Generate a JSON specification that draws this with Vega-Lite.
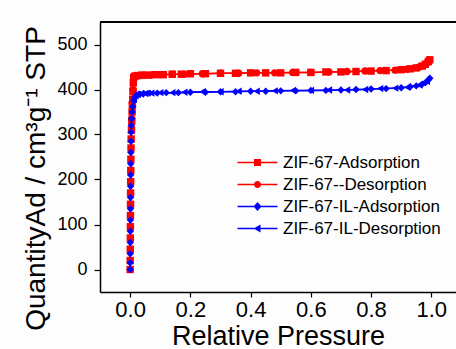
{
  "$schema": "https://vega.github.io/schema/vega-lite/v6.json",
  "width": 356,
  "height": 270,
  "autosize": {"type": "none"},
  "padding": {"left": 100, "top": 22, "right": 0, "bottom": 57},
  "background": "#fdfdfd",
  "config": {
    "view": {"stroke": null},
    "font": "Liberation Sans",
    "axis": {"domainColor": "#000000", "domainWidth": 1.5, "tickColor": "#000000", "tickWidth": 1.2, "labelColor": "#000000", "titleColor": "#000000", "labelFont": "Liberation Sans", "titleFont": "Liberation Sans", "titleFontWeight": "normal", "grid": false}
  },
  "resolve": {"scale": {"shape": "independent", "color": "independent"}},
  "datasets": {
    "iso": [
      {"s": "ZIF-67-Adsorption", "p": 0.0001, "q": 0},
      {"s": "ZIF-67-Adsorption", "p": 0.0003, "q": 20},
      {"s": "ZIF-67-Adsorption", "p": 0.0005, "q": 45},
      {"s": "ZIF-67-Adsorption", "p": 0.0007, "q": 70},
      {"s": "ZIF-67-Adsorption", "p": 0.0009, "q": 95},
      {"s": "ZIF-67-Adsorption", "p": 0.0011, "q": 120},
      {"s": "ZIF-67-Adsorption", "p": 0.0013, "q": 145},
      {"s": "ZIF-67-Adsorption", "p": 0.0015, "q": 170},
      {"s": "ZIF-67-Adsorption", "p": 0.0018, "q": 195},
      {"s": "ZIF-67-Adsorption", "p": 0.0021, "q": 220},
      {"s": "ZIF-67-Adsorption", "p": 0.0025, "q": 245},
      {"s": "ZIF-67-Adsorption", "p": 0.003, "q": 270},
      {"s": "ZIF-67-Adsorption", "p": 0.0035, "q": 290},
      {"s": "ZIF-67-Adsorption", "p": 0.0045, "q": 310},
      {"s": "ZIF-67-Adsorption", "p": 0.0055, "q": 330},
      {"s": "ZIF-67-Adsorption", "p": 0.0065, "q": 350},
      {"s": "ZIF-67-Adsorption", "p": 0.0075, "q": 365},
      {"s": "ZIF-67-Adsorption", "p": 0.0085, "q": 378},
      {"s": "ZIF-67-Adsorption", "p": 0.0095, "q": 395},
      {"s": "ZIF-67-Adsorption", "p": 0.0105, "q": 415},
      {"s": "ZIF-67-Adsorption", "p": 0.012, "q": 427},
      {"s": "ZIF-67-Adsorption", "p": 0.016, "q": 430},
      {"s": "ZIF-67-Adsorption", "p": 0.025, "q": 431},
      {"s": "ZIF-67-Adsorption", "p": 0.04, "q": 432},
      {"s": "ZIF-67-Adsorption", "p": 0.06, "q": 432},
      {"s": "ZIF-67-Adsorption", "p": 0.085, "q": 433},
      {"s": "ZIF-67-Adsorption", "p": 0.11, "q": 433},
      {"s": "ZIF-67-Adsorption", "p": 0.14, "q": 434},
      {"s": "ZIF-67-Adsorption", "p": 0.17, "q": 434},
      {"s": "ZIF-67-Adsorption", "p": 0.2, "q": 435},
      {"s": "ZIF-67-Adsorption", "p": 0.25, "q": 435},
      {"s": "ZIF-67-Adsorption", "p": 0.3, "q": 436},
      {"s": "ZIF-67-Adsorption", "p": 0.35, "q": 436},
      {"s": "ZIF-67-Adsorption", "p": 0.4, "q": 437},
      {"s": "ZIF-67-Adsorption", "p": 0.45, "q": 437},
      {"s": "ZIF-67-Adsorption", "p": 0.5, "q": 437},
      {"s": "ZIF-67-Adsorption", "p": 0.55, "q": 438},
      {"s": "ZIF-67-Adsorption", "p": 0.6, "q": 438},
      {"s": "ZIF-67-Adsorption", "p": 0.65, "q": 439},
      {"s": "ZIF-67-Adsorption", "p": 0.7, "q": 439},
      {"s": "ZIF-67-Adsorption", "p": 0.75, "q": 440},
      {"s": "ZIF-67-Adsorption", "p": 0.8, "q": 441},
      {"s": "ZIF-67-Adsorption", "p": 0.85, "q": 442},
      {"s": "ZIF-67-Adsorption", "p": 0.9, "q": 444},
      {"s": "ZIF-67-Adsorption", "p": 0.93, "q": 446},
      {"s": "ZIF-67-Adsorption", "p": 0.95, "q": 448},
      {"s": "ZIF-67-Adsorption", "p": 0.97, "q": 452},
      {"s": "ZIF-67-Adsorption", "p": 0.98, "q": 456},
      {"s": "ZIF-67-Adsorption", "p": 0.99, "q": 462},
      {"s": "ZIF-67-Adsorption", "p": 0.995, "q": 466},
      {"s": "ZIF-67--Desorption", "p": 0.985, "q": 459},
      {"s": "ZIF-67--Desorption", "p": 0.96, "q": 450},
      {"s": "ZIF-67--Desorption", "p": 0.92, "q": 445},
      {"s": "ZIF-67--Desorption", "p": 0.88, "q": 443},
      {"s": "ZIF-67--Desorption", "p": 0.83, "q": 442},
      {"s": "ZIF-67--Desorption", "p": 0.78, "q": 441},
      {"s": "ZIF-67--Desorption", "p": 0.72, "q": 440},
      {"s": "ZIF-67--Desorption", "p": 0.66, "q": 439},
      {"s": "ZIF-67--Desorption", "p": 0.6, "q": 438},
      {"s": "ZIF-67--Desorption", "p": 0.54, "q": 438},
      {"s": "ZIF-67--Desorption", "p": 0.48, "q": 437},
      {"s": "ZIF-67--Desorption", "p": 0.42, "q": 437},
      {"s": "ZIF-67--Desorption", "p": 0.36, "q": 436},
      {"s": "ZIF-67--Desorption", "p": 0.3, "q": 436},
      {"s": "ZIF-67--Desorption", "p": 0.24, "q": 435},
      {"s": "ZIF-67--Desorption", "p": 0.18, "q": 434},
      {"s": "ZIF-67--Desorption", "p": 0.14, "q": 434},
      {"s": "ZIF-67--Desorption", "p": 0.1, "q": 433},
      {"s": "ZIF-67--Desorption", "p": 0.07, "q": 432},
      {"s": "ZIF-67--Desorption", "p": 0.045, "q": 432},
      {"s": "ZIF-67--Desorption", "p": 0.03, "q": 431},
      {"s": "ZIF-67--Desorption", "p": 0.02, "q": 430},
      {"s": "ZIF-67--Desorption", "p": 0.013, "q": 428},
      {"s": "ZIF-67--Desorption", "p": 0.0095, "q": 400},
      {"s": "ZIF-67--Desorption", "p": 0.007, "q": 370},
      {"s": "ZIF-67--Desorption", "p": 0.005, "q": 335},
      {"s": "ZIF-67-IL-Adsorption", "p": 0.0001, "q": 0},
      {"s": "ZIF-67-IL-Adsorption", "p": 0.0002, "q": 15},
      {"s": "ZIF-67-IL-Adsorption", "p": 0.0003, "q": 35},
      {"s": "ZIF-67-IL-Adsorption", "p": 0.0005, "q": 60},
      {"s": "ZIF-67-IL-Adsorption", "p": 0.0007, "q": 85},
      {"s": "ZIF-67-IL-Adsorption", "p": 0.0009, "q": 110},
      {"s": "ZIF-67-IL-Adsorption", "p": 0.0011, "q": 135},
      {"s": "ZIF-67-IL-Adsorption", "p": 0.0013, "q": 160},
      {"s": "ZIF-67-IL-Adsorption", "p": 0.0015, "q": 185},
      {"s": "ZIF-67-IL-Adsorption", "p": 0.0018, "q": 210},
      {"s": "ZIF-67-IL-Adsorption", "p": 0.0021, "q": 235},
      {"s": "ZIF-67-IL-Adsorption", "p": 0.0025, "q": 260},
      {"s": "ZIF-67-IL-Adsorption", "p": 0.003, "q": 285},
      {"s": "ZIF-67-IL-Adsorption", "p": 0.0035, "q": 305},
      {"s": "ZIF-67-IL-Adsorption", "p": 0.004, "q": 320},
      {"s": "ZIF-67-IL-Adsorption", "p": 0.005, "q": 335},
      {"s": "ZIF-67-IL-Adsorption", "p": 0.007, "q": 350},
      {"s": "ZIF-67-IL-Adsorption", "p": 0.009, "q": 362},
      {"s": "ZIF-67-IL-Adsorption", "p": 0.012, "q": 375},
      {"s": "ZIF-67-IL-Adsorption", "p": 0.016, "q": 383},
      {"s": "ZIF-67-IL-Adsorption", "p": 0.022, "q": 388},
      {"s": "ZIF-67-IL-Adsorption", "p": 0.03, "q": 390},
      {"s": "ZIF-67-IL-Adsorption", "p": 0.045, "q": 391},
      {"s": "ZIF-67-IL-Adsorption", "p": 0.065, "q": 392},
      {"s": "ZIF-67-IL-Adsorption", "p": 0.09, "q": 392},
      {"s": "ZIF-67-IL-Adsorption", "p": 0.12, "q": 393},
      {"s": "ZIF-67-IL-Adsorption", "p": 0.16, "q": 393},
      {"s": "ZIF-67-IL-Adsorption", "p": 0.2, "q": 394},
      {"s": "ZIF-67-IL-Adsorption", "p": 0.25, "q": 394},
      {"s": "ZIF-67-IL-Adsorption", "p": 0.3, "q": 395},
      {"s": "ZIF-67-IL-Adsorption", "p": 0.35, "q": 395},
      {"s": "ZIF-67-IL-Adsorption", "p": 0.4, "q": 396},
      {"s": "ZIF-67-IL-Adsorption", "p": 0.45, "q": 396},
      {"s": "ZIF-67-IL-Adsorption", "p": 0.5, "q": 397},
      {"s": "ZIF-67-IL-Adsorption", "p": 0.55, "q": 397},
      {"s": "ZIF-67-IL-Adsorption", "p": 0.6, "q": 398},
      {"s": "ZIF-67-IL-Adsorption", "p": 0.65, "q": 398},
      {"s": "ZIF-67-IL-Adsorption", "p": 0.7, "q": 399},
      {"s": "ZIF-67-IL-Adsorption", "p": 0.75, "q": 400},
      {"s": "ZIF-67-IL-Adsorption", "p": 0.8, "q": 401},
      {"s": "ZIF-67-IL-Adsorption", "p": 0.85, "q": 402},
      {"s": "ZIF-67-IL-Adsorption", "p": 0.9, "q": 404},
      {"s": "ZIF-67-IL-Adsorption", "p": 0.93, "q": 406},
      {"s": "ZIF-67-IL-Adsorption", "p": 0.95, "q": 408},
      {"s": "ZIF-67-IL-Adsorption", "p": 0.97, "q": 412},
      {"s": "ZIF-67-IL-Adsorption", "p": 0.98, "q": 415},
      {"s": "ZIF-67-IL-Adsorption", "p": 0.99, "q": 421},
      {"s": "ZIF-67-IL-Adsorption", "p": 0.995, "q": 425},
      {"s": "ZIF-67-IL-Desorption", "p": 0.985, "q": 418},
      {"s": "ZIF-67-IL-Desorption", "p": 0.96, "q": 410},
      {"s": "ZIF-67-IL-Desorption", "p": 0.92, "q": 405},
      {"s": "ZIF-67-IL-Desorption", "p": 0.88, "q": 403},
      {"s": "ZIF-67-IL-Desorption", "p": 0.83, "q": 402},
      {"s": "ZIF-67-IL-Desorption", "p": 0.78, "q": 400},
      {"s": "ZIF-67-IL-Desorption", "p": 0.72, "q": 399},
      {"s": "ZIF-67-IL-Desorption", "p": 0.66, "q": 399},
      {"s": "ZIF-67-IL-Desorption", "p": 0.6, "q": 398},
      {"s": "ZIF-67-IL-Desorption", "p": 0.54, "q": 398},
      {"s": "ZIF-67-IL-Desorption", "p": 0.48, "q": 397},
      {"s": "ZIF-67-IL-Desorption", "p": 0.42, "q": 396},
      {"s": "ZIF-67-IL-Desorption", "p": 0.36, "q": 396},
      {"s": "ZIF-67-IL-Desorption", "p": 0.3, "q": 395},
      {"s": "ZIF-67-IL-Desorption", "p": 0.24, "q": 395},
      {"s": "ZIF-67-IL-Desorption", "p": 0.18, "q": 394},
      {"s": "ZIF-67-IL-Desorption", "p": 0.14, "q": 393},
      {"s": "ZIF-67-IL-Desorption", "p": 0.1, "q": 393},
      {"s": "ZIF-67-IL-Desorption", "p": 0.07, "q": 392},
      {"s": "ZIF-67-IL-Desorption", "p": 0.05, "q": 391},
      {"s": "ZIF-67-IL-Desorption", "p": 0.035, "q": 390},
      {"s": "ZIF-67-IL-Desorption", "p": 0.025, "q": 389},
      {"s": "ZIF-67-IL-Desorption", "p": 0.018, "q": 386},
      {"s": "ZIF-67-IL-Desorption", "p": 0.012, "q": 378}
    ],
    "keys": [
      {"k": "ZIF-67-Adsorption"},
      {"k": "ZIF-67--Desorption"},
      {"k": "ZIF-67-IL-Adsorption"},
      {"k": "ZIF-67-IL-Desorption"}
    ],
    "frame": [
      {"top": 550}
    ]
  },
  "layer": [
    {
      "data": {"name": "iso"},
      "mark": {"type": "line", "strokeWidth": 1.5, "clip": true},
      "encoding": {
        "x": {"field": "p", "type": "quantitative", "scale": {"domain": [-0.1, 1.082], "nice": false, "zero": false},
          "axis": {"values": [0, 0.1, 0.2, 0.3, 0.4, 0.5, 0.6, 0.7, 0.8, 0.9, 1.0], "labelExpr": "round(datum.value*10) % 2 === 0 ? format(datum.value, '.1f') : ''", "labelFontSize": 22, "labelPadding": 2, "tickSize": 5, "labelFlush": false, "title": "Relative Pressure", "titleFontSize": 27, "titleBaseline": "alphabetic", "titleY": 52}},
        "y": {"field": "q", "type": "quantitative", "scale": {"domain": [-50, 550], "nice": false, "zero": false},
          "axis": {"values": [0, 50, 100, 150, 200, 250, 300, 350, 400, 450, 500], "labelExpr": "datum.value % 100 === 0 ? datum.label : ''", "labelFontSize": 18, "labelPadding": 7, "tickSize": {"condition": {"test": "datum.value % 100 === 0", "value": 6}, "value": 3}, "title": "QuantityAd / cm³g⁻¹ STP", "titleFontSize": 28, "titleBaseline": "alphabetic", "titleAngle": -90, "titleX": -56, "titleY": 156, "titleAlign": "center"}},
        "color": {"field": "s", "type": "nominal", "scale": {"domain": ["ZIF-67-Adsorption", "ZIF-67--Desorption", "ZIF-67-IL-Adsorption", "ZIF-67-IL-Desorption"], "range": ["#ff0000", "#ff0000", "#0000ff", "#0000ff"]}, "legend": null},
        "detail": {"field": "s"}
      }
    },
    {
      "data": {"name": "iso"},
      "mark": {"type": "point", "filled": true, "opacity": 1, "size": 55, "clip": true},
      "encoding": {
        "x": {"field": "p", "type": "quantitative"},
        "y": {"field": "q", "type": "quantitative"},
        "color": {"field": "s", "type": "nominal", "scale": {"domain": ["ZIF-67-Adsorption", "ZIF-67--Desorption", "ZIF-67-IL-Adsorption", "ZIF-67-IL-Desorption"], "range": ["#ff0000", "#ff0000", "#0000ff", "#0000ff"]}, "legend": null},
        "shape": {"field": "s", "type": "nominal", "scale": {"domain": ["ZIF-67-Adsorption", "ZIF-67--Desorption", "ZIF-67-IL-Adsorption", "ZIF-67-IL-Desorption"], "range": ["square", "circle", "diamond", "triangle-left"]}, "legend": null}
      }
    },
    {
      "data": {"name": "frame"},
      "mark": {"type": "rule", "color": "#000000", "strokeWidth": 2},
      "encoding": {"y": {"field": "top", "type": "quantitative"}}
    },
    {
      "data": {"name": "keys"},
      "transform": [{"filter": "datum.k === 'none'"}],
      "mark": {"type": "point", "filled": true, "opacity": 1},
      "encoding": {
        "color": {"field": "k", "type": "nominal", "scale": {"domain": ["ZIF-67-Adsorption", "ZIF-67--Desorption", "ZIF-67-IL-Adsorption", "ZIF-67-IL-Desorption"], "range": ["#ff0000", "#ff0000", "#0000ff", "#0000ff"]},
          "legend": {"orient": "none", "legendX": 149, "legendY": 132, "title": null, "padding": 0, "labelFontSize": 17, "labelFont": "Liberation Sans", "labelColor": "#000000", "labelOffset": 17, "symbolSize": 100, "rowPadding": 4, "symbolStrokeWidth": 0}},
        "shape": {"field": "k", "type": "nominal", "scale": {"domain": ["ZIF-67-Adsorption", "ZIF-67--Desorption", "ZIF-67-IL-Adsorption", "ZIF-67-IL-Desorption"], "range": ["M-4,-0.16H4V0.16H-4Z M-0.7,-0.7H0.7V0.7H-0.7Z", "M-4,-0.16H4V0.16H-4Z M-0.7,0A0.7,0.7 0 1,1 0.7,0A0.7,0.7 0 1,1 -0.7,0Z", "M-4,-0.16H4V0.16H-4Z M0,-0.9L0.8,0L0,0.9L-0.8,0Z", "M-4,-0.16H4V0.16H-4Z M-0.8,0L0.6,-0.8L0.6,0.8Z"]},
          "legend": {"orient": "none", "legendX": 149, "legendY": 132, "title": null, "padding": 0, "labelFontSize": 17, "labelFont": "Liberation Sans", "labelColor": "#000000", "labelOffset": 17, "symbolSize": 100, "rowPadding": 4, "symbolStrokeWidth": 0}}
      }
    }
  ]
}
